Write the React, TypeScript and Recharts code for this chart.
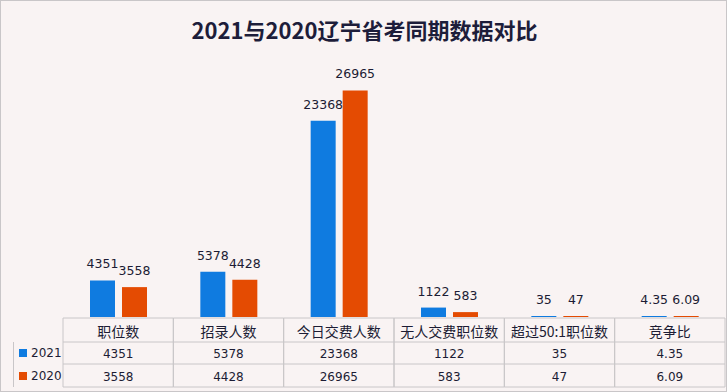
import { BarChart, Bar, XAxis, YAxis, LabelList, Legend } from "recharts";

const categories = ["职位数", "招录人数", "今日交费人数", "无人交费职位数", "超过50:1职位数", "竞争比"];
const values2021 = [4351, 5378, 23368, 1122, 35, 4.35];
const values2020 = [3558, 4428, 26965, 583, 47, 6.09];
const seriesNames = ["2021", "2020"];

const BLUE = "#0f7be0";
const ORANGE = "#e44b02";
const LINE = "#c9c6c8";
const TEXT = "#1c1c34";
const CJK = "'Noto Sans CJK SC', 'DejaVu Sans', sans-serif";

const W = 727;
const H = 392;
const PLOT_LEFT = 63;
const PLOT_RIGHT = 725;
const TABLE_TOP = 318;
const ROW1 = 342;
const ROW2 = 364;
const TABLE_BOTTOM = 387;
const COL_W = (PLOT_RIGHT - PLOT_LEFT) / categories.length;

const data = categories.map((name, i) => ({
  name,
  v2021: values2021[i],
  v2020: values2020[i],
}));

// each x tick draws one column of the data table underneath the bars
const ColumnTick = (props: any) => {
  const { x, payload } = props;
  const i = payload.index;
  const l = x - COL_W / 2;
  const r = x + COL_W / 2;
  return (
    <g>
      <line x1={l} x2={r} y1={TABLE_TOP} y2={TABLE_TOP} stroke={LINE} />
      <line x1={l} x2={r} y1={ROW1} y2={ROW1} stroke={LINE} />
      <line x1={l} x2={r} y1={ROW2} y2={ROW2} stroke={LINE} />
      <line x1={l} x2={r} y1={TABLE_BOTTOM} y2={TABLE_BOTTOM} stroke={LINE} />
      <line x1={l} x2={l} y1={TABLE_TOP} y2={TABLE_BOTTOM} stroke={LINE} />
      <line x1={r} x2={r} y1={TABLE_TOP} y2={TABLE_BOTTOM} stroke={LINE} />
      <text x={x} y={(TABLE_TOP + ROW1) / 2 + 1} textAnchor="middle" dominantBaseline="central" fontSize={14} fontFamily={CJK} fill={TEXT}>
        {payload.value}
      </text>
      <text x={x} y={(ROW1 + ROW2) / 2 + 1} textAnchor="middle" dominantBaseline="central" fontSize={12} fontFamily="'DejaVu Sans', sans-serif" fill={TEXT}>
        {values2021[i]}
      </text>
      <text x={x} y={(ROW2 + TABLE_BOTTOM) / 2 + 1} textAnchor="middle" dominantBaseline="central" fontSize={12} fontFamily="'DejaVu Sans', sans-serif" fill={TEXT}>
        {values2020[i]}
      </text>
    </g>
  );
};

const LegendColumn = () => (
  <div
    style={{
      position: "absolute",
      left: 13,
      top: 0,
      width: PLOT_LEFT - 13,
      height: TABLE_BOTTOM - ROW1,
      borderLeft: `1px solid ${LINE}`,
      boxSizing: "border-box",
      fontFamily: "'DejaVu Sans', sans-serif",
      fontSize: 12,
      color: TEXT,
    }}
  >
    {seriesNames.map((s, i) => (
      <div
        key={s}
        style={{
          height: i === 0 ? ROW2 - ROW1 : TABLE_BOTTOM - ROW2,
          display: "flex",
          alignItems: "center",
          paddingLeft: 5,
          boxSizing: "border-box",
        }}
      >
        <span style={{ width: 8, height: 8, background: i === 0 ? BLUE : ORANGE, marginRight: 4 }} />
        {s}
      </div>
    ))}
  </div>
);

export default function App() {
  return (
    <div
      style={{
        position: "absolute",
        left: 0,
        top: 0,
        width: W,
        height: H,
        background: "#f9f3f3",
        border: `1px solid ${LINE}`,
        boxSizing: "border-box",
        overflow: "hidden",
      }}
    >
      <div
        style={{
          position: "absolute",
          left: 0,
          top: 12,
          width: W,
          textAlign: "center",
          fontFamily: CJK,
          fontWeight: 700,
          fontSize: 22,
          color: "#1d1d3a",
        }}
      >
        2021与2020辽宁省考同期数据对比
      </div>
      <div style={{ position: "absolute", left: -1, top: -1 }}>
        <BarChart
          width={W}
          height={H}
          data={data}
          margin={{ top: 65, right: W - PLOT_RIGHT, left: PLOT_LEFT, bottom: 5 }}
          barSize={25}
          barGap={7}
        >
          <YAxis hide domain={[0, 30000]} />
          <XAxis
            dataKey="name"
            height={70}
            axisLine={false}
            tickLine={false}
            interval={0}
            tick={(p: any) => <ColumnTick {...p} />}
          />
          <Legend
            verticalAlign="top"
            content={() => <LegendColumn />}
            wrapperStyle={{ position: "absolute", left: 0, top: ROW1, width: W, height: 0 }}
          />
          <Bar dataKey="v2021" name="2021" fill={BLUE} minPointSize={1} isAnimationActive={false}>
            <LabelList dataKey="v2021" position="top" offset={12} fontSize={12.5} fontFamily="'DejaVu Sans', sans-serif" fill={TEXT} />
          </Bar>
          <Bar dataKey="v2020" name="2020" fill={ORANGE} minPointSize={1} isAnimationActive={false}>
            <LabelList dataKey="v2020" position="top" offset={12} fontSize={12.5} fontFamily="'DejaVu Sans', sans-serif" fill={TEXT} />
          </Bar>
        </BarChart>
      </div>
    </div>
  );
}
